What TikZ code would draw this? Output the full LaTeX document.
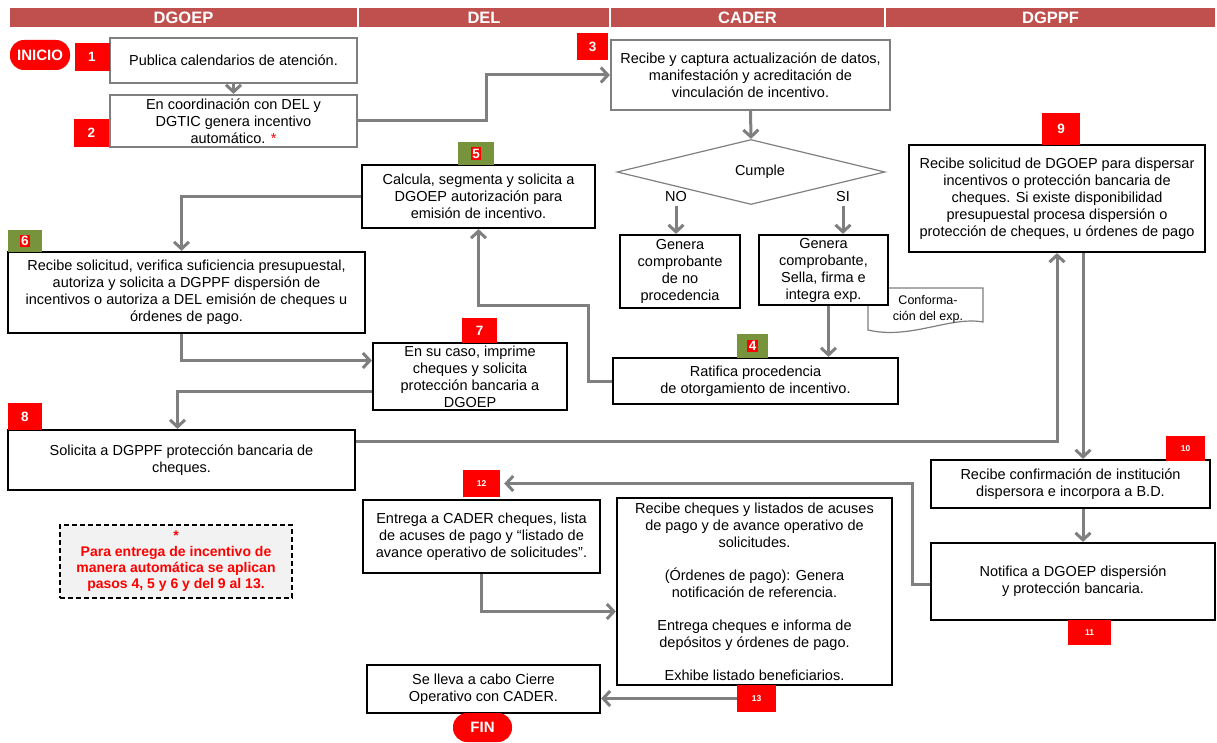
\documentclass[tikz,border=0pt]{standalone}
\usepackage{fontspec}
\setmainfont{Liberation Sans}
\usetikzlibrary{arrows.meta,shapes.geometric,calc}

\definecolor{encabezado}{HTML}{C0504D}
\definecolor{verdepaso}{HTML}{77933C}
\definecolor{grisflecha}{HTML}{7F7F7F}
\definecolor{rojopaso}{HTML}{FF0000}
\definecolor{fondonota}{HTML}{F2F2F2}

\tikzset{
  carril/.style={fill=encabezado, text=white, minimum height=19pt, inner sep=0pt, font=\fontsize{16.5}{16.5}\selectfont\bfseries},
  paso/.style={draw=black, line width=2.2pt, fill=white, align=center, inner sep=1pt, font=\fontsize{14.5}{17}\selectfont},
  pasogris/.style={paso, draw=grisflecha},
  numrojo/.style={fill=rojopaso, text=white, inner sep=0pt, font=\fontsize{13.5}{13.5}\selectfont\bfseries},
  numchico/.style={numrojo, font=\fontsize{8.5}{8.5}\selectfont\bfseries},
  numverde/.style={fill=verdepaso, inner sep=0pt, font=\fontsize{13.5}{13.5}\selectfont\bfseries},
  terminal/.style={fill=rojopaso, text=white, rounded corners=14pt, inner sep=0pt, font=\fontsize{15}{15}\selectfont\bfseries},
  flecha/.style={draw=grisflecha, line width=3pt, -{Straight Barb[length=7pt,width=15pt]}},
}
\newcommand{\verde}[1]{{\setlength\fboxsep{1.5pt}\colorbox{rojopaso}{\textcolor{white}{#1}}}}

\begin{document}
\begin{tikzpicture}[x=1pt,y=-1pt]
	%%%%% START %%%%%
	\useasboundingbox (0,0) rectangle (1217,743);
	
	% carriles
	\node[carril, minimum width=347pt] (cDGOEP) at (183.5,18) {DGOEP};
	\node[carril, minimum width=250pt] (cDEL) at (484,18) {DEL};
	\node[carril, minimum width=273pt] (cCADER) at (747.5,18) {CADER};
	\node[carril, minimum width=329pt] (cDGPPF) at (1050.5,18) {DGPPF};
	
	% inicio
	\node[terminal, minimum width=60pt, minimum height=30pt] (inicio) at (40,55) {INICIO};
	\node[pasogris, minimum width=247pt, minimum height=45pt] (p1) at (233.5,60.5) {Publica calendarios de atención.};
	\node[pasogris, minimum width=247pt, minimum height=52pt] (p2) at (233.5,121) {En coordinación con DEL y\\DGTIC genera incentivo\\automático. {\color{rojopaso}*}};
	\node[pasogris, minimum width=279pt, minimum height=70pt] (p3) at (750.5,75) {Recibe y captura actualización de datos,\\manifestación y acreditación de\\vinculación de incentivo.};
	\node[numrojo, minimum width=35pt, minimum height=28pt] (n1) at (92,57) {1};
	\node[numrojo, minimum width=35pt, minimum height=28pt] (n2) at (91.5,133) {2};
	\node[numrojo, minimum width=31pt, minimum height=27pt] (n3) at (592.5,46.5) {3};
	
	% decision
	\node[draw=grisflecha, line width=1.2pt, diamond, aspect=4, inner sep=0pt, minimum width=268pt, minimum height=65pt, font=\fontsize{14.5}{14.5}\selectfont] (cumple) at (751,172) {\hspace{18pt}Cumple};
	\node[font=\fontsize{14.5}{14.5}\selectfont] (no) at (676,197) {NO};
	\node[font=\fontsize{14.5}{14.5}\selectfont] (si) at (843,197) {SI};
	\node[paso, minimum width=120pt, minimum height=73pt] (pno) at (680,271.5) {Genera\\comprobante\\de no\\procedencia};
	\draw[draw=grisflecha, line width=1.2pt, fill=white] (868,288) -- (983,288) -- (983,322) .. controls (950,316) and (910,340) .. (868,330) -- cycle;
	\node[font=\fontsize{12.5}{16}\selectfont, align=center] (conf) at (928,309) {Conforma-\\ción del exp.};
	\node[paso, minimum width=129pt, minimum height=70pt] (psi) at (823.5,270) {Genera\\comprobante,\\Sella, firma e\\integra exp.};
	
	\node[paso, minimum width=285pt, minimum height=46pt] (p4) at (755.5,381) {Ratifica procedencia\\de otorgamiento de incentivo.};
	\node[paso, minimum width=233pt, minimum height=63pt] (p5) at (478.5,196.5) {Calcula, segmenta y solicita a\\DGOEP autorización para\\emisión de incentivo.};
	\node[paso, minimum width=357pt, minimum height=81pt] (p6) at (186.5,292.5) {Recibe solicitud, verifica suficiencia presupuestal,\\autoriza y solicita a DGPPF dispersión de\\incentivos o autoriza a DEL emisión de cheques u\\órdenes de pago.};
	\node[paso, minimum width=194pt, minimum height=67pt] (p7) at (470,376.5) {En su caso, imprime\\cheques y solicita\\protección bancaria a\\DGOEP};
	\node[paso, minimum width=347pt, minimum height=60pt] (p8) at (181.5,460) {Solicita a DGPPF protección bancaria de\\cheques.};
	\node[paso, minimum width=296pt, minimum height=107pt] (p9) at (1057,198.5) {Recibe solicitud de DGOEP para dispersar\\incentivos o protección bancaria de\\cheques. Si existe disponibilidad\\presupuestal procesa dispersión o\\protección de cheques, u órdenes de pago};
	\node[paso, minimum width=279pt, minimum height=48pt] (p10) at (1070.5,484) {Recibe confirmación de institución\\dispersora e incorpora a B.D.};
	\node[paso, minimum width=284pt, minimum height=77pt] (p11) at (1073,581.5) {Notifica a DGOEP dispersión\\y protección bancaria.};
	\node[paso, minimum width=237pt, minimum height=73pt] (p12) at (481.5,536.5) {Entrega a CADER cheques, lista\\de acuses de pago y ``listado de\\avance operativo de solicitudes''.};
	\node[paso, minimum width=275pt, minimum height=187pt] (p13) at (754.5,591.5) {Recibe cheques y listados de acuses\\de pago y de avance operativo de\\solicitudes.\\[16pt](Órdenes de pago): Genera\\notificación de referencia.\\[16pt]Entrega cheques e informa de\\depósitos y órdenes de pago.\\[16pt]Exhibe listado beneficiarios.};
	\node[paso, minimum width=233pt, minimum height=48pt] (pcierre) at (483.5,689) {Se lleva a cabo Cierre\\Operativo con CADER.};
	\node[terminal, minimum width=59pt, minimum height=29pt] (fin) at (482.5,727.5) {FIN};
	
	% numeros
	\node[numverde, minimum width=31pt, minimum height=24pt] (n4) at (752.5,346) {\verde{4}};
	\node[numverde, minimum width=36pt, minimum height=23pt] (n5) at (476,153.5) {\verde{5}};
	\node[numverde, minimum width=34pt, minimum height=22pt] (n6) at (25,241) {\verde{6}};
	\node[numrojo, minimum width=35pt, minimum height=25pt] (n7) at (479.5,330.5) {7};
	\node[numrojo, minimum width=34pt, minimum height=27pt] (n8) at (25,416.5) {8};
	\node[numrojo, minimum width=38pt, minimum height=32pt] (n9) at (1061,129) {9};
	\node[numchico, minimum width=39pt, minimum height=25pt] (n10) at (1185.5,448.5) {10};
	\node[numchico, minimum width=43pt, minimum height=25pt] (n11) at (1089.5,632.5) {11};
	\node[numchico, minimum width=37pt, minimum height=27pt] (n12) at (481.5,483.5) {12};
	\node[numchico, minimum width=39pt, minimum height=27pt] (n13) at (756.5,698.5) {13};
	
	% nota
	\node[draw=black, dash pattern=on 5pt off 3pt, line width=1.8pt, fill=fondonota, minimum width=232pt, minimum height=73pt, align=center, text=rojopaso, font=\fontsize{14}{16}\selectfont\bfseries] (nota) at (176,561.5) {*\\Para entrega de incentivo de\\manera automática se aplican\\pasos 4, 5 y 6 y del 9 al 13.};
	
	% flechas
	\draw[flecha] (p1.south) -- (p2.north);
	\draw[flecha] (p2.east) -- ++(128,0) |- (p3.west);
	\draw[flecha] (p3.south) -- (cumple.north);
	\draw[flecha] (no.south) -- (no.south |- pno.north);
	\draw[flecha] (si.south) -- (si.south |- psi.north);
	\draw[flecha] ([xshift=5pt]psi.south) -- ([xshift=5pt]psi.south |- p4.north);
	\draw[flecha] (p4.west) -| (588,305) -| (p5.south);
	\draw[flecha] (p5.west) -| ([xshift=-5pt]p6.north);
	\draw[flecha] ([xshift=-5pt]p6.south) |- ([yshift=16pt]p7.west);
	\draw[flecha] ([yshift=-15pt]p7.west) -| ([xshift=-4pt]p8.north);
	\draw[flecha] ([yshift=19pt]p8.east) -| (p9.south);
	\draw[flecha] ([xshift=26pt]p9.south) -- ([xshift=26pt]p9.south |- p10.north);
	\draw[flecha] ([xshift=12.5pt]p10.south) -- ([xshift=12.5pt]p10.south |- p11.north);
	\draw[flecha, shorten >=4pt] ([yshift=-3pt]p11.west) -- ++(-17,0) |- (n12.east);
	\draw[flecha] (p12.south) |- ([yshift=-20pt]p13.west);
	\draw[flecha] (n13.west) -- (n13.west -| pcierre.east);
	
	%%%%% END %%%%%
\end{tikzpicture}
\end{document}
